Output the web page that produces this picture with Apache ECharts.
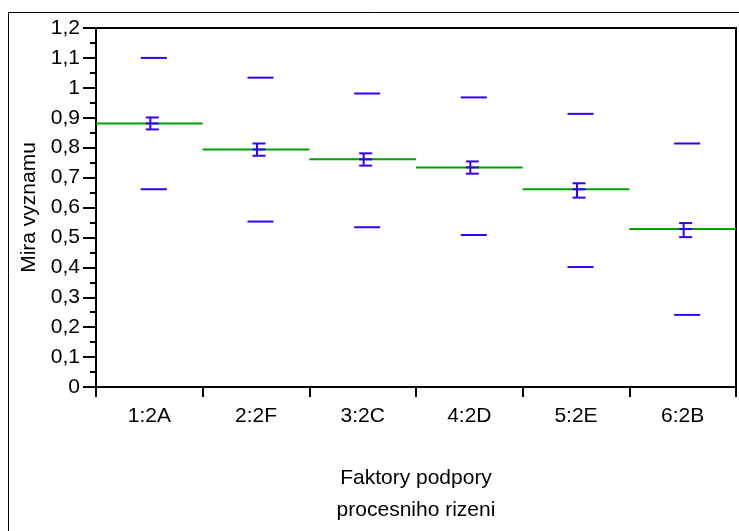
<!DOCTYPE html>
<html>
<head>
<meta charset="utf-8">
<style>
  html, body { margin: 0; padding: 0; background: #ffffff; }
  #chart { width: 739px; height: 531px; }
</style>
<script src="https://cdn.jsdelivr.net/npm/echarts@6/dist/echarts.min.js"></script>
</head>
<body>
<div id="chart"></div>
<script>
// Factor groups on the x axis
var categories = ['1:2A', '2:2F', '3:2C', '4:2D', '5:2E', '6:2B'];
// Group means (green lines)
var means = [0.881, 0.794, 0.761, 0.734, 0.661, 0.528];
// Upper and lower limit marks (blue dashes)
var upperLimits = [1.100, 1.034, 0.981, 0.968, 0.913, 0.814];
var lowerLimits = [0.661, 0.553, 0.534, 0.508, 0.401, 0.241];
// Error bar ends around each mean
var errHigh = [0.901, 0.814, 0.781, 0.754, 0.681, 0.548];
var errLow = [0.861, 0.773, 0.740, 0.713, 0.633, 0.501];
// Y axis range
var yMin = 0, yMax = 1.2, yStep = 0.1;

var BLUE = '#3300ff';
var GREEN = '#00a000';

var seriesData = categories.map(function (c, i) {
  return [i, means[i], upperLimits[i], lowerLimits[i], errHigh[i], errLow[i]];
});

function renderItem(params, api) {
  var idx = api.value(0);
  var pMean = api.coord([idx, api.value(1)]);
  var pUp = api.coord([idx, api.value(2)]);
  var pLo = api.coord([idx, api.value(3)]);
  var pEh = api.coord([idx, api.value(4)]);
  var pEl = api.coord([idx, api.value(5)]);
  var bandW = api.size([1, 0])[0];
  var cx = pMean[0];
  var dashX = cx + 4.5, dashHalf = 13;
  var barX = cx + 3, capHalf = 6.5;
  var blue = { stroke: BLUE, lineWidth: 2 };
  return {
    type: 'group',
    children: [
      { type: 'line', shape: { x1: cx - bandW / 2, y1: pMean[1], x2: cx + bandW / 2, y2: pMean[1] },
        style: { stroke: GREEN, lineWidth: 2 } },
      { type: 'line', shape: { x1: dashX - dashHalf, y1: pUp[1], x2: dashX + dashHalf, y2: pUp[1] }, style: blue },
      { type: 'line', shape: { x1: dashX - dashHalf, y1: pLo[1], x2: dashX + dashHalf, y2: pLo[1] }, style: blue },
      { type: 'line', shape: { x1: barX - 2, y1: pEh[1], x2: barX - 2, y2: pEl[1] }, style: blue },
      { type: 'line', shape: { x1: barX - capHalf, y1: pEh[1], x2: barX + capHalf, y2: pEh[1] }, style: blue },
      { type: 'line', shape: { x1: barX - capHalf, y1: pEl[1], x2: barX + capHalf, y2: pEl[1] }, style: blue },
      { type: 'line', shape: { x1: barX - capHalf, y1: pMean[1], x2: barX + capHalf, y2: pMean[1] }, style: blue }
    ]
  };
}

var FONT = '"Liberation Sans", Arial, sans-serif';

var chart = echarts.init(document.getElementById('chart'), null, { renderer: 'canvas' });
chart.setOption({
  animation: false,
  backgroundColor: '#ffffff',
  graphic: [{
    type: 'rect',
    shape: { x: 8.5, y: 12.5, width: 800, height: 600 },
    style: { fill: 'none', stroke: '#000000', lineWidth: 1 },
    z: 0
  }],
  grid: {
    left: 96, top: 28, right: 3, bottom: 143,
    show: true, borderColor: '#000000', borderWidth: 2, backgroundColor: 'transparent'
  },
  xAxis: {
    type: 'category',
    data: categories,
    boundaryGap: true,
    name: 'Faktory podpory\nprocesniho rizeni',
    nameLocation: 'middle',
    nameGap: 75,
    nameTextStyle: { color: '#000000', fontFamily: FONT, fontSize: 21, lineHeight: 32 },
    axisLine: { show: true, lineStyle: { color: '#000000', width: 2 } },
    axisTick: { show: true, length: 10, lineStyle: { color: '#000000', width: 2 } },
    axisLabel: { color: '#000000', fontFamily: FONT, fontSize: 21, margin: 19 },
    splitLine: { show: false }
  },
  yAxis: {
    type: 'value',
    min: yMin, max: yMax, interval: yStep,
    name: 'Mira vyznamu',
    nameLocation: 'middle',
    nameGap: 52,
    nameTextStyle: { color: '#000000', fontFamily: FONT, fontSize: 21 },
    axisLine: { show: true, lineStyle: { color: '#000000', width: 2 } },
    axisTick: { show: true, length: 13, lineStyle: { color: '#000000', width: 2 } },
    minorTick: { show: true, splitNumber: 2, length: 6, lineStyle: { color: '#000000', width: 2 } },
    axisLabel: {
      color: '#000000', fontFamily: FONT, fontSize: 21, margin: 16,
      formatter: function (v) { return String(+v.toFixed(1)).replace('.', ','); }
    },
    splitLine: { show: false }
  },
  series: [{
    type: 'custom',
    renderItem: renderItem,
    encode: { x: 0, y: 1 },
    data: seriesData,
    clip: false,
    z: 5
  }]
});
</script>
</body>
</html>
